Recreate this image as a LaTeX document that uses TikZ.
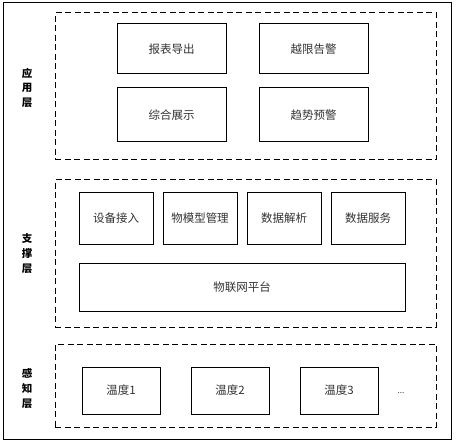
\documentclass[tikz,border=0pt]{standalone}
\usepackage{fontspec}
\setmainfont{Noto Sans CJK SC}
\usetikzlibrary{positioning}
\definecolor{mytext}{RGB}{50,50,50}
\tikzset{
  layerbox/.style={rectangle, draw=black, line width=1pt, dash pattern=on 6pt off 3.5pt},
  modbox/.style={rectangle, draw=black, line width=1pt, text=mytext, font=\fontsize{11.5}{13}\selectfont},
  layerlabel/.style={align=center, font=\fontsize{10.5}{15}\selectfont\bfseries}
}

\begin{document}
\begin{tikzpicture}[x=1pt, y=-1pt, every node/.style={inner sep=0pt, outer sep=0pt}]
\useasboundingbox (0,0) rectangle (456,444);

% Outer frame
\node[rectangle, draw=black, line width=1pt, minimum width=448pt, minimum height=436pt] (frame) at (227,221) {};

% Layer boxes
\node[layerbox, minimum width=381pt, minimum height=147pt] (app) at (245.5,86.5) {};
\node[layerbox, minimum width=381pt, minimum height=147pt] (support) at (245.5,253.5) {};
\node[layerbox, minimum width=381pt, minimum height=83pt] (sense) at (245.5,385.5) {};

% Layer labels
\node[layerlabel] (applabel) at (27,88) {应\\用\\层};
\node[layerlabel] (supportlabel) at (27,254) {支\\撑\\层};
\node[layerlabel] (senselabel) at (27,389) {感\\知\\层};

% Application layer
\node[modbox, minimum width=109pt, minimum height=50pt] (report) at (171.5,49) {报表导出};
\node[modbox, minimum width=109pt, minimum height=50pt, right=33pt of report] (alarm) {越限告警};
\node[modbox, minimum width=109pt, minimum height=54pt, below=14pt of report] (display) {综合展示};
\node[modbox, minimum width=109pt, minimum height=54pt, right=33pt of display] (trend) {趋势预警};

% Support layer
\node[modbox, minimum width=74pt, minimum height=51pt] (access) at (116,218.5) {设备接入};
\node[modbox, minimum width=74pt, minimum height=51pt, right=10pt of access] (model) {物模型管理};
\node[modbox, minimum width=74pt, minimum height=51pt, right=10pt of model] (parse) {数据解析};
\node[modbox, minimum width=74pt, minimum height=51pt, right=10pt of parse] (service) {数据服务};
\node[modbox, minimum width=326pt, minimum height=48pt] (platform) at (242,287) {物联网平台};

% Sensing layer
\node[modbox, minimum width=78pt, minimum height=47pt] (temp1) at (121,390.5) {温度1};
\node[modbox, minimum width=78pt, minimum height=47pt, right=31pt of temp1] (temp2) {温度2};
\node[modbox, minimum width=78pt, minimum height=47pt, right=31pt of temp2] (temp3) {温度3};
\node[text=mytext, font=\fontsize{8}{10}\selectfont] (more) at (401,393) {...};

\end{tikzpicture}
\end{document}
